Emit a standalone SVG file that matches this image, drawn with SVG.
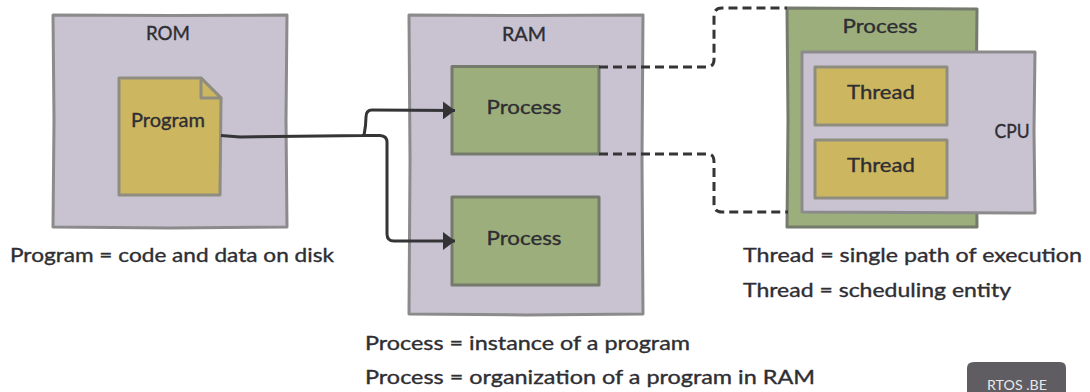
<svg xmlns="http://www.w3.org/2000/svg" width="1090" height="392" viewBox="0 0 1090 392">
<style>
.lav{fill:#c8c2d1;stroke:#8b8b8b;stroke-width:3;stroke-linejoin:round}
.grn{fill:#9dae7d;stroke:#747a6c;stroke-width:3;stroke-linejoin:round}
.yel{fill:#cdb660;stroke:#8f8d80;stroke-width:3;stroke-linejoin:round}
text{font-family:"Lato","Liberation Sans",sans-serif;font-size:19px;fill:#2e2e33;stroke:#2e2e33;stroke-width:.35}
.c{text-anchor:middle}
.conn{fill:none;stroke:#353537;stroke-width:3;stroke-linejoin:round}
.dash{fill:none;stroke:#353537;stroke-width:3;stroke-dasharray:9 5}
</style>
<defs>
<marker id="arr" markerUnits="userSpaceOnUse" markerWidth="13" markerHeight="18" refX="12" refY="9" orient="auto"><path d="M0 0L12 9L0 18Z" fill="#333335"/></marker>
</defs>
<g id="rom">
<path class="lav" d="M53 15L170 15.500L287 15L286 120L287 227L170 228L53 227L54 120Z"/>
<text class="c" x="168" y="40" textLength="44" lengthAdjust="spacingAndGlyphs">ROM</text>
</g>
<g id="program">
<path class="yel" d="M119 78L201 78L221 98L220 195L119 195Z"/>
<path class="yel" d="M201 78L201 98L221 98Z"/>
<text class="c" x="168" y="127" textLength="74" lengthAdjust="spacingAndGlyphs">Program</text>
</g>
<g id="ram">
<path class="lav" d="M409 15L526 15.500L643 15L642 160L643 314L526 315L409 314L410 160Z"/>
<text class="c" x="524" y="41" textLength="44" lengthAdjust="spacingAndGlyphs">RAM</text>
</g>
<g id="process-1">
<rect class="grn" x="452" y="66.500" width="147" height="87.500"/>
<text class="c" x="524" y="114" textLength="75" lengthAdjust="spacingAndGlyphs">Process</text>
</g>
<g id="process-2">
<rect class="grn" x="452" y="197" width="147" height="88"/>
<text class="c" x="524" y="245" textLength="75" lengthAdjust="spacingAndGlyphs">Process</text>
</g>
<g id="process-3">
<path class="grn" d="M787 8L977 9L976 120L977 227L787 227L788 120Z"/>
<text class="c" x="880" y="33" textLength="75" lengthAdjust="spacingAndGlyphs">Process</text>
</g>
<g id="cpu">
<path class="lav" d="M802 52L1035 52L1034 130L1035 213L802 212Z"/>
<text class="c" x="1012" y="138" textLength="35" lengthAdjust="spacingAndGlyphs">CPU</text>
</g>
<g id="thread-1">
<rect class="yel" x="815" y="67" width="132" height="58"/>
<text class="c" x="881" y="99" textLength="68" lengthAdjust="spacingAndGlyphs">Thread</text>
</g>
<g id="thread-2">
<rect class="yel" x="815" y="140" width="132" height="58"/>
<text class="c" x="881" y="172" textLength="68" lengthAdjust="spacingAndGlyphs">Thread</text>
</g>
<g id="connectors">
<path class="conn" d="M221 135.500L240 137L364 135.500Q366 125 366 117Q366 110 372 110L455 110.500" marker-end="url(#arr)"/>
<path class="conn" d="M362 135.500L380 135.500Q387 136 387 142L387 234Q387 241 394 241L455 241" marker-end="url(#arr)"/>
<path class="dash" d="M599 67L706 67Q714 67 714 60L714 16Q714 8 722 8L787 8"/>
<path class="dash" d="M599 154L708 154Q714 154 714 162L714 204Q714 212 722 212L788 212"/>
</g>
<g id="captions">
<text x="10" y="262" textLength="324" lengthAdjust="spacingAndGlyphs">Program = code and data on disk</text>
<text x="365" y="350" textLength="325" lengthAdjust="spacingAndGlyphs">Process = instance of a program</text>
<text x="365" y="384" textLength="450" lengthAdjust="spacingAndGlyphs">Process = organization of a program in RAM</text>
<text x="743" y="262" textLength="339" lengthAdjust="spacingAndGlyphs">Thread = single path of execution</text>
<text x="743" y="297" textLength="268" lengthAdjust="spacingAndGlyphs">Thread = scheduling entity</text>
</g>
<g id="badge">
<path d="M974 362L1060 362Q1066 362 1066 368L1066 392L967 392L967 368Q967 362 974 362Z" fill="#5f5d62"/>
<text x="987" y="390" textLength="60" lengthAdjust="spacingAndGlyphs" style="font-size:13px;fill:#e8e8ea;stroke:none">RTOS .BE</text>
</g>
</svg>
